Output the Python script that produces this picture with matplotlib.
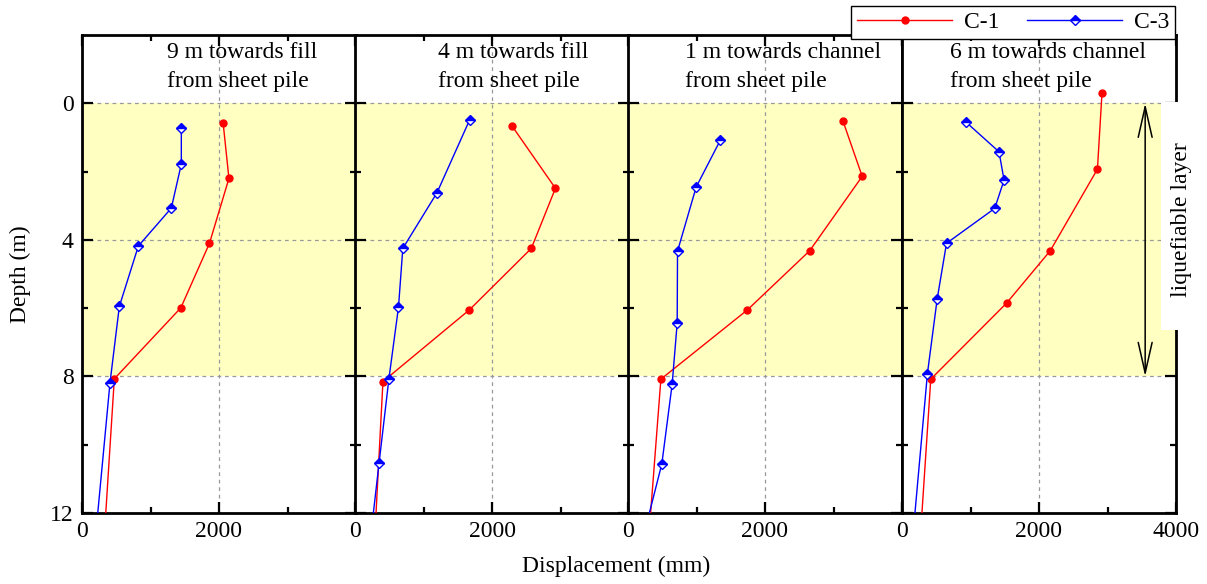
import matplotlib
matplotlib.use("Agg")
import matplotlib.pyplot as plt
import matplotlib.patches as patches
from matplotlib.ticker import FixedLocator

plt.rcParams['font.family'] = ['Liberation Serif', 'DejaVu Serif']
plt.rcParams['font.size'] = 17

# panel titles
titles = ["9 m towards fill\nfrom sheet pile",
          "4 m towards fill\nfrom sheet pile",
          "1 m towards channel\nfrom sheet pile",
          "6 m towards channel\nfrom sheet pile"]

# C-1 (red) : depth (m) and displacement (mm), one list per panel
c1_depth = [[0.57, 2.20, 4.10, 5.99, 8.07, 12.0],
            [0.66, 2.49, 4.25, 6.05, 8.15, 12.0],
            [0.53, 2.14, 4.32, 6.05, 8.08, 12.0],
            [-0.31, 1.93, 4.32, 5.85, 8.08, 12.0]]
c1_disp = [[2060, 2145, 1861, 1443, 472, 347],
           [2291, 2926, 2574, 1670, 408, 307],
           [3140, 3419, 2652, 1744, 480, 330],
           [2920, 2853, 2164, 1528, 420, 291]]

# C-3 (blue)
c3_depth = [[0.73, 1.78, 3.07, 4.18, 5.95, 8.20, 12.0],
            [0.48, 2.62, 4.25, 5.97, 8.07, 10.54, 12.0],
            [1.08, 2.45, 4.33, 6.44, 8.22, 10.56, 12.0],
            [0.54, 1.42, 2.25, 3.08, 4.10, 5.74, 7.92, 12.0]]
c3_disp = [[1450, 1450, 1304, 823, 545, 408, 230],
           [1675, 1197, 698, 635, 495, 351, 268],
           [1348, 996, 723, 718, 645, 494, 312],
           [928, 1416, 1490, 1353, 650, 513, 371, 189]]

# left edge of each title, in displacement units
title_x = [1245, 1216, 835, 703]

W, H = 1207, 584
fig = plt.figure(figsize=(W / 100, H / 100), dpi=100)

lefts = [82, 355, 628, 902]
pw = 274
top_px, bot_px = 35, 513
yellow = '#ffffc2'

axes = []
for i in range(4):
    ax = fig.add_axes([lefts[i] / W, 1 - bot_px / H, pw / W, (bot_px - top_px) / H])
    axes.append(ax)
    ax.set_xlim(0, 4000)
    ax.set_ylim(12, -2)

    # liquefiable layer band
    ax.axhspan(0, 8, color=yellow, zorder=0, lw=0)

    ax.plot(c1_disp[i], c1_depth[i], color='red', lw=1.0, marker='o', ms=5,
            markerfacecolor='red', markeredgecolor='red', markevery=slice(0, -1),
            label='C-1', zorder=3)
    ax.plot(c3_disp[i], c3_depth[i], color='blue', lw=1.0, marker='D', ms=4.6,
            fillstyle='top', markerfacecolor='blue', markerfacecoloralt='white',
            markeredgecolor='blue', markevery=slice(0, -1), label='C-3', zorder=3)

    ax.xaxis.set_major_locator(FixedLocator([0, 2000, 4000]))
    ax.xaxis.set_minor_locator(FixedLocator([1000, 3000]))
    ax.yaxis.set_major_locator(FixedLocator([0, 4, 8, 12]))
    ax.yaxis.set_minor_locator(FixedLocator([2, 6, 10]))

    ax.grid(True, which='major', color='#999999', ls=(0, (3, 3)), lw=0.9, zorder=1)
    ax.set_axisbelow(True)

    ax.tick_params(which='both', direction='in', top=True, right=True, width=1.6)
    ax.tick_params(which='major', length=8, pad=6, labelsize=17)
    ax.tick_params(which='minor', length=4)
    for s in ax.spines.values():
        s.set_linewidth(2)

    if i < 3:
        ax.set_xticklabels(['0', '2000', ''])
    else:
        ax.set_xticklabels(['0', '2000', '4000'])
    if i > 0:
        ax.tick_params(axis='y', labelleft=False)

    ax.text(title_x[i], -1.05, titles[i], ha='left', va='center', fontsize=17,
            linespacing=1.5, zorder=4)

axes[0].set_ylabel('Depth (m)', fontsize=17, labelpad=14)
fig.text(616 / W, 1 - 566 / H, 'Displacement (mm)', ha='center', va='center', fontsize=17)

# arrow across the liquefiable layer
axes[3].annotate('', xy=(3550, 0), xytext=(3550, 8),
                 arrowprops=dict(arrowstyle='<->,head_length=2.2,head_width=0.5',
                                 mutation_scale=10, lw=1.1, color='black',
                                 shrinkA=0, shrinkB=0), zorder=5)

# white box behind the side label
rect = patches.Rectangle((1161 / W, 1 - 330 / H), 45 / W, 228 / H,
                         transform=fig.transFigure, facecolor='white',
                         edgecolor='none', zorder=2)
fig.add_artist(rect)
fig.text(1181 / W, 1 - 220 / H, 'liquefiable layer', rotation=90,
         ha='center', va='center', fontsize=17, zorder=3)

handles, labels = axes[0].get_legend_handles_labels()
leg = fig.legend(handles, labels, loc='upper right', ncol=2,
                 bbox_to_anchor=(1175 / W, 1 - 6 / H), fancybox=False,
                 edgecolor='black', framealpha=1, borderaxespad=0,
                 handlelength=4.0, columnspacing=1.2, handletextpad=0.5,
                 borderpad=0.25, fontsize=17)
leg.get_frame().set_linewidth(1.0)
leg.set_zorder(10)

fig.savefig('out.png', dpi=100)
